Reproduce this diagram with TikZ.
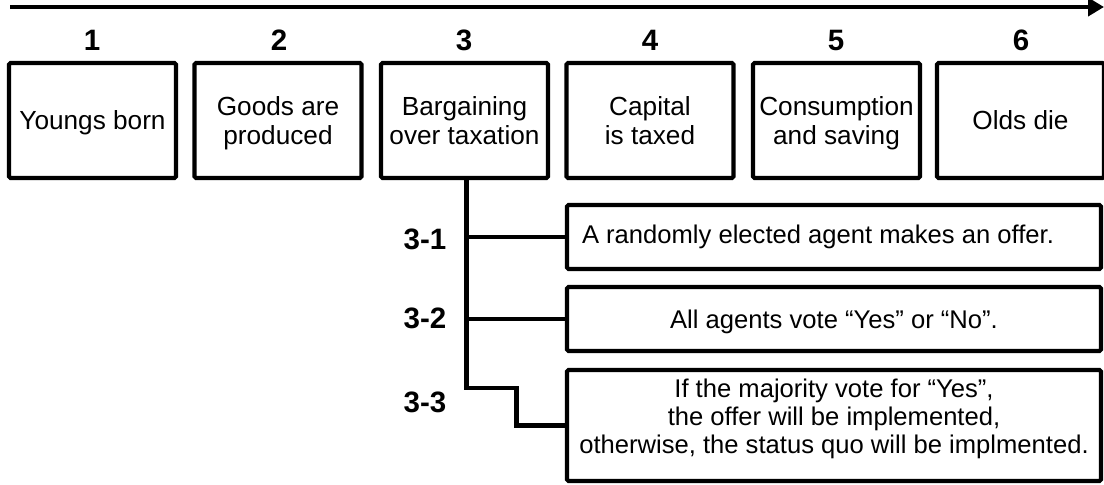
\documentclass[tikz,border=0pt]{standalone}
\usepackage{fontspec}
\setmainfont{Liberation Sans}
\usetikzlibrary{arrows.meta,calc}
\begin{document}
\begin{tikzpicture}[x=1pt,y=-1pt,
  stage/.style={draw, line width=4.2pt, rounded corners=1.5pt, minimum width=167pt, minimum height=115pt, inner sep=0pt, text depth=0pt, align=center, font=\fontsize{26.2}{28.5}\selectfont},
  sub/.style={draw, line width=4.2pt, rounded corners=1.5pt, minimum width=534pt, inner sep=0pt, text depth=0pt, align=center, font=\fontsize{25.6}{28}\selectfont},
  num/.style={font=\fontsize{29.5}{32}\selectfont\bfseries, inner sep=0pt},
  link/.style={line width=4.2pt}
]
\useasboundingbox (0,0) rectangle (1104,485);
% time arrow
\coordinate (a0) at (10,7);
\coordinate (a1) at (1104,7);
\draw[line width=4.2pt, -{Triangle[length=16pt,width=18pt]}] (a0) -- (a1);
% stages
\node[stage] (b1) at (92.5,120.5) {Youngs born};
\node[stage] (b2) at (278,120.5) {Goods are\\produced};
\node[stage] (b3) at (464.5,120.5) {Bargaining\\over taxation};
\node[stage] (b4) at (650,120.5) {Capital\\is taxed};
\node[stage] (b5) at (836.5,120.5) {Consumption\\and saving};
\node[stage] (b6) at (1020.5,120.5) {Olds die};
% numbers
\node[num] (n1) at (92,40) {1};
\node[num] (n2) at (279,40) {2};
\node[num] (n3) at (464,40) {3};
\node[num] (n4) at (650,40) {4};
\node[num] (n5) at (836,40) {5};
\node[num] (n6) at (1021,40) {6};
% sub steps
\node[sub, minimum height=64pt, text depth=6pt] (s1) at (834,237) {A randomly elected agent makes an offer.\hspace*{32pt}};
\node[sub, minimum height=64pt] (s2) at (834,319) {All agents vote “Yes” or “No”.};
\node[sub, minimum height=111pt, text depth=18pt] (s3) at (834,425.5) {If the majority vote for “Yes”,\\the offer will be implemented,\\otherwise, the status quo will be implmented.};
\node[num] (l1) at (425,239) {3-1};
\node[num] (l2) at (425,318) {3-2};
\node[num] (l3) at (425,402) {3-3};
% connectors
\coordinate (tk) at (466.5,388);
\draw[link] (b3.south -| tk) -- (tk) -- ++(50,0) |- (s3.west);
\draw[link] (tk |- s1.west) -- (s1.west);
\draw[link] (tk |- s2.west) -- (s2.west);
\end{tikzpicture}
\end{document}
